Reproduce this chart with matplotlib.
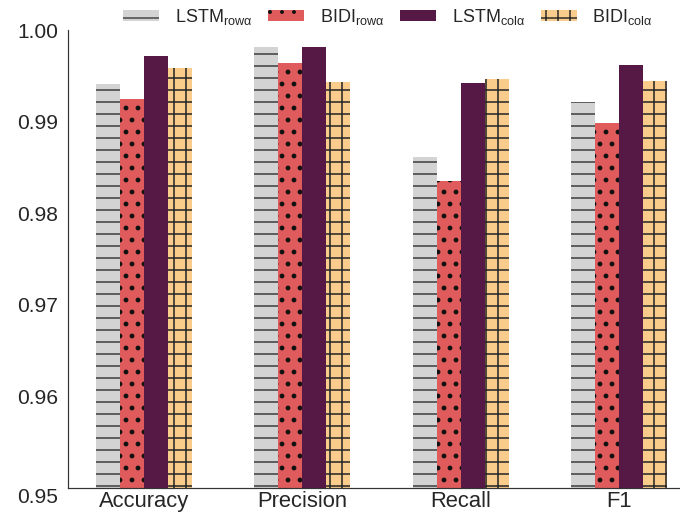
import numpy as np
import matplotlib
matplotlib.use('Agg')
import matplotlib.pyplot as plt
from matplotlib.transforms import ScaledTranslation

plt.rcParams['font.family'] = ['Liberation Sans', 'DejaVu Sans']
plt.rcParams['hatch.linewidth'] = 1.5
plt.rcParams['text.color'] = '#262626'
plt.rcParams['xtick.color'] = '#262626'
plt.rcParams['ytick.color'] = '#262626'

metrics = ['Accuracy', 'Precision', 'Recall', 'F1']
lstm_row = [0.9941, 0.9982, 0.9861, 0.9921]
bidi_row = [0.9925, 0.9964, 0.9835, 0.9899]
lstm_col = [0.9972, 0.9982, 0.9942, 0.9962]
bidi_col = [0.9958, 0.9943, 0.9947, 0.9944]

labels = ['LSTM$_{\\mathregular{rowα}}$', 'BIDI$_{\\mathregular{rowα}}$',
          'LSTM$_{\\mathregular{colα}}$', 'BIDI$_{\\mathregular{colα}}$']
colors = ['#d3d3d3', '#e05c5c', '#561845', '#f9cc8c']
hatches = ['-', '.', '', '+']
hatch_colors = ['#444444', '#111111', '#333333', '#2a2a2a']
hatch_widths = [1.6, 2.4, 1.5, 1.6]
series = [lstm_row, bidi_row, lstm_col, bidi_col]

fig = plt.figure(figsize=(680 / 72, 515 / 72), dpi=72)
ax = fig.add_axes([0.1, 0.0524, 0.9, 0.8893])

x = np.arange(len(metrics))
width = 0.152
base = 0.95
for i, vals in enumerate(series):
    with plt.rc_context({'hatch.linewidth': hatch_widths[i]}):
        ax.bar(x + (i - 1.5) * width, np.array(vals) - base, width, bottom=base,
               color=colors[i], hatch=hatches[i], edgecolor=hatch_colors[i],
               linewidth=0, label=labels[i])

ax.set_ylim(0.95, 1.0)
ax.set_xlim(-0.48, 3.385)
ax.set_yticks([0.95, 0.96, 0.97, 0.98, 0.99, 1.00])
ax.set_yticklabels(['0.95', '0.96', '0.97', '0.98', '0.99', '1.00'])
ax.set_xticks(x)
ax.set_xticklabels(metrics)
ax.tick_params(axis='y', length=0, labelsize=21, pad=10)
ax.tick_params(axis='x', length=0, labelsize=22, pad=3)

# bottom label sits a bit lower in the original
lab0 = ax.get_yticklabels()[0]
lab0.set_transform(lab0.get_transform() + ScaledTranslation(0, -7 / 72, fig.dpi_scale_trans))

for s in ['top', 'right']:
    ax.spines[s].set_visible(False)
for s in ['left', 'bottom']:
    ax.spines[s].set_color('#333333')
    ax.spines[s].set_linewidth(1.2)

fig.legend(loc='center', bbox_to_anchor=(388 / 680, 1 - 17 / 515), ncol=4,
           frameon=False, fontsize=18, handlelength=2.0, handleheight=0.6,
           handletextpad=0.85, columnspacing=0.9)

fig.savefig('out.png', dpi=72)
